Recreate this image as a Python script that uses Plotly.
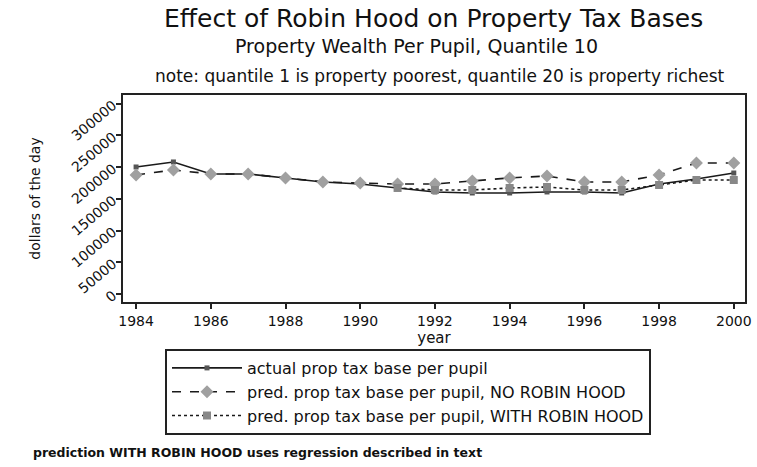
import plotly.graph_objects as go

years = list(range(1984, 2001))
actual = [200300, 208200, 189300, 189300, 183000, 176700, 173500, 167200, 160900,
          159300, 159300, 160900, 160900, 159300, 173500, 181400, 190800]
pred_no_rh = [187700, 195600, 189300, 189300, 183000, 176700, 175100, 173500, 173500,
              178200, 183000, 186100, 176700, 176700, 187700, 206600, 206600]
pred_with_rh = [None, None, None, None, None, None, None, 167200, 164000,
                164000, 167200, 168700, 164000, 164000, 171900, 179800, 179800]
x_ticks = list(range(1984, 2001, 2))
y_ticks = [0, 50000, 100000, 150000, 200000, 250000, 300000]

FONT = "DejaVu Sans, Liberation Sans, Arial, sans-serif"

fig = go.Figure()
fig.add_trace(go.Scatter(
    x=years, y=actual, mode="lines+markers",
    name="actual prop tax base per pupil",
    line=dict(color="#1a1a1a", width=1.6, dash="solid"),
    marker=dict(symbol="square", size=5, color="#555555"),
))
fig.add_trace(go.Scatter(
    x=years, y=pred_no_rh, mode="lines+markers",
    name="pred. prop tax base per pupil, NO ROBIN HOOD",
    line=dict(color="#1a1a1a", width=1.6, dash="dash"),
    marker=dict(symbol="diamond", size=10, color="#a0a0a0"),
))
fig.add_trace(go.Scatter(
    x=years, y=pred_with_rh, mode="lines+markers",
    name="pred. prop tax base per pupil, WITH ROBIN HOOD",
    line=dict(color="#1a1a1a", width=1.6, dash="dot"),
    marker=dict(symbol="square", size=8, color="#888888"),
))

fig.update_layout(
    width=757, height=467,
    margin=dict(l=123, r=12, t=95, b=165),
    paper_bgcolor="white", plot_bgcolor="white",
    font=dict(family=FONT, color="#111111"),
    showlegend=True,
    legend=dict(
        x=(165 - 123) / 622, y=(302 - 349) / 207, xanchor="left", yanchor="top",
        bordercolor="#222222", borderwidth=2,
        font=dict(size=16, family=FONT),
        itemwidth=70, tracegroupgap=0,
        bgcolor="white",
    ),
    xaxis=dict(
        range=[1983.65, 2000.3], automargin=False,
        tickmode="array", tickvals=x_ticks, ticktext=[str(t) for t in x_ticks],
        ticks="outside", ticklen=5, tickwidth=1.5, tickcolor="#222",
        showgrid=False, zeroline=False,
        showline=True, linecolor="#222", linewidth=2, mirror=True,
        tickfont=dict(size=14),
        title=dict(text="year", font=dict(size=15), standoff=0),
    ),
    yaxis=dict(
        range=[-12600, 313800], automargin=False,
        tickmode="array", tickvals=y_ticks, ticktext=[str(t) for t in y_ticks],
        ticks="outside", ticklen=5, tickwidth=1.5, tickcolor="#222",
        tickangle=-40,
        showgrid=False, zeroline=False,
        showline=True, linecolor="#222", linewidth=2, mirror=True,
        tickfont=dict(size=14),
        title=dict(text="dollars of the day", font=dict(size=14), standoff=24),
    ),
    annotations=[
        dict(text="Effect of Robin Hood on Property Tax Bases", xref="paper", yref="paper",
             x=(433 - 123) / 622, y=1 + (95 - 18) / 207, xanchor="center", yanchor="middle",
             showarrow=False, font=dict(size=25, family=FONT)),
        dict(text="Property Wealth Per Pupil, Quantile 10", xref="paper", yref="paper",
             x=(416 - 123) / 622, y=1 + (95 - 46) / 207, xanchor="center", yanchor="middle",
             showarrow=False, font=dict(size=19, family=FONT)),
        dict(text="note: quantile 1 is property poorest, quantile 20 is property richest",
             xref="paper", yref="paper",
             x=(440 - 123) / 622, y=1 + (95 - 76) / 207, xanchor="center", yanchor="middle",
             showarrow=False, font=dict(size=17, family=FONT)),
        dict(text="<b>prediction WITH ROBIN HOOD uses regression described in text</b>",
             xref="paper", yref="paper",
             x=(257 - 123) / 622, y=(302 - 452) / 207, xanchor="center", yanchor="middle",
             showarrow=False, font=dict(size=12.5, family=FONT)),
    ],
)

fig.write_html("out.html", config={"displayModeBar": False})

with open("out.html", "r", encoding="utf-8") as f:
    html = f.read()
html = html.replace("<body>", '<body style="margin:0;padding:0;overflow:hidden">', 1)
with open("out.html", "w", encoding="utf-8") as f:
    f.write(html)
